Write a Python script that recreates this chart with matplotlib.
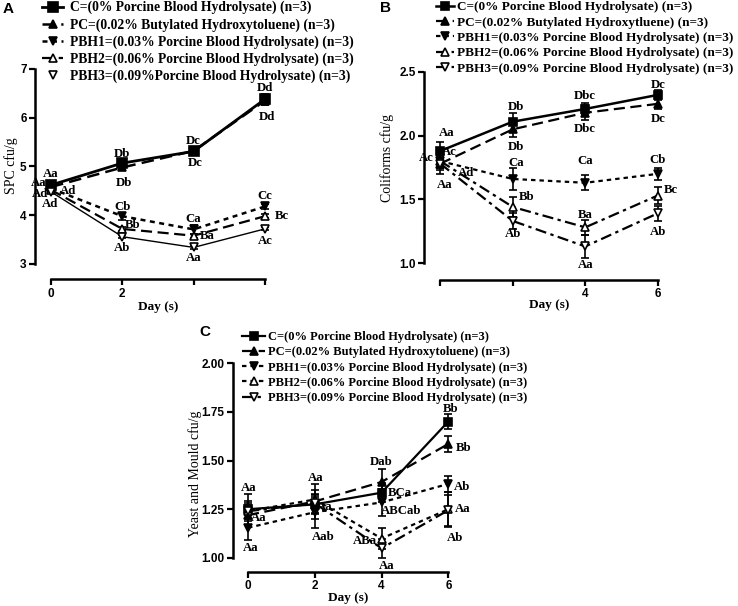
import numpy as np
import matplotlib
matplotlib.use('Agg')
import matplotlib.pyplot as plt
from matplotlib.lines import Line2D

SERIF = 'Liberation Serif'
SANS = 'Liberation Sans'

days = [0, 2, 4, 6]
groups = ['C', 'PC', 'PBH1', 'PBH2', 'PBH3']

# ---- panel A : SPC ----
spc_mean = {'C': [4.62, 5.07, 5.31, 6.38], 'PC': [4.58, 4.98, 5.32, 6.35],
            'PBH1': [4.55, 3.98, 3.71, 4.18], 'PBH2': [4.52, 3.72, 3.58, 3.98],
            'PBH3': [4.48, 3.56, 3.34, 3.72]}
spc_err = {'C': [0.06, 0.05, 0.05, 0.10], 'PC': [0.05, 0.05, 0.04, 0.08],
           'PBH1': [0.05, 0.07, 0.10, 0.05], 'PBH2': [0.04, 0.04, 0.04, 0.04],
           'PBH3': [0.03, 0.03, 0.03, 0.03]}
spc_letters = {'C': ['Aa', 'Db', 'Dc', 'Dd'], 'PC': ['Aa', 'Db', 'Dc', 'Dd'],
               'PBH1': ['Ad', 'Cb', 'Ca', 'Cc'], 'PBH2': ['Ad', 'Bb', 'Ba', 'Bc'],
               'PBH3': ['Ad', 'Ab', 'Aa', 'Ac']}

# ---- panel B : coliforms ----
col_mean = {'C': [1.88, 2.11, 2.21, 2.32], 'PC': [1.78, 2.05, 2.18, 2.25],
            'PBH1': [1.80, 1.66, 1.63, 1.70], 'PBH2': [1.80, 1.44, 1.28, 1.53],
            'PBH3': [1.78, 1.33, 1.13, 1.39]}
col_err = {'C': [0.07, 0.07, 0.05, 0.04], 'PC': [0.08, 0.06, 0.06, 0.04],
           'PBH1': [0.05, 0.09, 0.06, 0.05], 'PBH2': [0.05, 0.08, 0.06, 0.07],
           'PBH3': [0.05, 0.06, 0.09, 0.06]}
col_letters = {'C': ['Aa', 'Db', 'Dbc', 'Dc'], 'PC': ['Aa', 'Db', 'Dbc', 'Dc'],
               'PBH1': ['Ac', 'Ca', 'Ca', 'Cb'], 'PBH2': ['Ac', 'Bb', 'Ba', 'Bc'],
               'PBH3': ['Ad', 'Ab', 'Aa', 'Ab']}

# ---- panel C : yeast and mould ----
ym_mean = {'C': [1.25, 1.275, 1.335, 1.70], 'PC': [1.22, 1.29, 1.39, 1.585],
           'PBH1': [1.155, 1.235, 1.285, 1.38], 'PBH2': [1.24, 1.30, 1.10, 1.25],
           'PBH3': [1.24, 1.28, 1.05, 1.245]}
ym_err = {'C': [0.08, 0.05, 0.05, 0.04], 'PC': [0.05, 0.09, 0.065, 0.04],
          'PBH1': [0.065, 0.08, 0.07, 0.04], 'PBH2': [0.05, 0.05, 0.055, 0.09],
          'PBH3': [0.04, 0.05, 0.05, 0.08]}
ym_letters = {'C': ['Aa', 'Aa', 'BCa', 'Bb'], 'PC': ['Aa', 'Aa', 'Dab', 'Bb'],
              'PBH1': ['Aa', 'Aab', 'ABCab', 'Ab'], 'PBH2': [None, None, 'ABa', 'Aa'],
              'PBH3': [None, None, 'Aa', 'Ab']}

legend_a = ['C=(0% Porcine Blood Hydrolysate) (n=3)',
            'PC=(0.02% Butylated Hydroxytoluene) (n=3)',
            'PBH1=(0.03% Porcine Blood Hydrolysate) (n=3)',
            'PBH2=(0.06% Porcine Blood Hydrolysate) (n=3)',
            'PBH3=(0.09%Porcine Blood Hydrolysate) (n=3)']
legend_b = ['C=(0% Porcine Blood Hydrolysate) (n=3)',
            'PC=(0.02% Butylated Hydroxytluene) (n=3)',
            'PBH1=(0.03% Porcine Blood Hydrolysate) (n=3)',
            'PBH2=(0.06% Porcine Blood Hydrolysate) (n=3)',
            'PBH3=(0.09% Porcine Blood Hydrolysate) (n=3)']
legend_c = ['C=(0% Porcine Blood Hydrolysate) (n=3)',
            'PC=(0.02% Butylated Hydroxytoluene) (n=3)',
            'PBH1=(0.03% Porcine Blood Hydrolysate) (n=3)',
            'PBH2=(0.06% Porcine Blood Hydrolysate) (n=3)',
            'PBH3=(0.09% Porcine Blood Hydrolysate) (n=3)']

# label offsets in pixels (dx right, dy down) per group / day
off_a = {'C': [(0, -11), (0, -9), (0, -10), (0, -11)],
         'PC': [(-12, -4), (2, 16), (2, 12), (2, 16)],
         'PBH1': [(-11, 6), (0, -9), (0, -10), (0, -10)],
         'PBH2': [(17, 1), (10, -4), (14, 0), (17, 0)],
         'PBH3': [(-1, 12), (0, 11), (0, 11), (0, 12)]}
off_b = {'C': [(6, -18), (3, -15), (0, -13), (0, -10)],
         'PC': [(4, 21), (3, 18), (0, 16), (0, 15)],
         'PBH1': [(9, -9), (3, -16), (0, -22), (0, -14)],
         'PBH2': [(-14, -3), (14, -10), (0, -12), (13, -6)],
         'PBH3': [(26, 9), (0, 13), (0, 19), (0, 19)]}
off_c = {'C': [(1, -21), (10, 3), (18, 0), (2, -12)],
         'PC': [(11, 3), (1, -23), (0, -20), (15, 4)],
         'PBH1': [(3, 20), (8, 25), (20, 9), (14, 3)],
         'PBH2': [None, None, (-17, 2), (14, 0)],
         'PBH3': [None, None, (5, 18), (7, 28)]}

# line styles: (linestyle, marker, markerfacecolor, markersize, linewidth)
sty_a = {'C': ('-', 's', 'k', 7, 2.0), 'PC': ((0, (5, 2.5)), '^', 'k', 5.5, 1.8),
         'PBH1': ((0, (2, 1.8)), 'v', 'k', 5.5, 1.8), 'PBH2': ((0, (5, 2.5)), '^', 'w', 5.5, 1.6),
         'PBH3': ('-', 'v', 'w', 5.5, 1.0)}
sty_b = {'C': ('-', 's', 'k', 6, 1.8), 'PC': ((0, (5, 2.5)), '^', 'k', 5.5, 1.6),
         'PBH1': ((0, (2, 1.8)), 'v', 'k', 5.5, 1.6), 'PBH2': ((0, (5, 2, 1.5, 2)), '^', 'w', 5.5, 1.6),
         'PBH3': ((0, (5, 2, 1.5, 2)), 'v', 'w', 5.5, 1.6)}
sty_c = {'C': ('-', 's', 'k', 6, 1.6), 'PC': ((0, (5, 2.5)), '^', 'k', 5.5, 1.6),
         'PBH1': ((0, (2, 1.8)), 'v', 'k', 5.5, 1.6), 'PBH2': ((0, (2, 1.8)), '^', 'w', 5.5, 1.6),
         'PBH3': ((0, (5, 2, 1.5, 2)), 'v', 'w', 5.5, 1.6)}

fig = plt.figure(figsize=(7.38, 6.06), dpi=100)
W, H = 738, 606


def px_axes(l, t, r, b):
    return fig.add_axes([l / W, 1 - b / H, (r - l) / W, (b - t) / H])


def draw_panel(ax, mean, err, letters, offs, sty, ylim, yticks, yfmt,
               xlabels, xoffset, legend_labels, legend_xy, leg_size, handlelen,
               textpad, spacing, no_line_legend=False):
    handles = []
    for g in groups:
        ls, mk, mfc, ms, lw = sty[g]
        ax.errorbar(days, mean[g], yerr=err[g], color='k', linestyle=ls, lw=lw,
                    marker=mk, mfc=mfc, mec='k', mew=1.2, ms=ms,
                    ecolor='k', elinewidth=1.2, capsize=3, capthick=1.2,
                    clip_on=False, zorder=3)
        if no_line_legend and g == 'PBH3':
            h = Line2D([], [], linestyle='None', marker=mk, mfc=mfc, mec='k',
                       mew=1.2, ms=ms)
        else:
            h = Line2D([], [], color='k', linestyle=ls, lw=lw, marker=mk,
                       mfc=mfc, mec='k', mew=1.2, ms=ms)
        handles.append(h)
        for i, d in enumerate(days):
            if letters[g][i] is None:
                continue
            dx, dy = offs[g][i]
            ax.annotate(letters[g][i], (d, mean[g][i]), xytext=(dx, -dy),
                        textcoords='offset pixels', ha='center', va='center',
                        fontfamily=SERIF, fontweight='bold', fontsize=9.2,
                        annotation_clip=False, zorder=2)
    ax.set_xlim(-0.45, 6.2)
    ax.set_ylim(*ylim)
    ax.set_yticks(yticks)
    ax.set_yticklabels([yfmt % v for v in yticks])
    ax.set_xticks(days)
    ax.set_xticklabels(xlabels)
    for s in ['top', 'right']:
        ax.spines[s].set_visible(False)
    ax.spines['left'].set_linewidth(1.8)
    ax.spines['bottom'].set_linewidth(1.8)
    ax.spines['bottom'].set_bounds(0, 6)
    ax.spines['bottom'].set_position(('outward', xoffset))
    ax.tick_params(direction='out', length=4, width=1.6, pad=2)
    for t in ax.get_xticklabels() + ax.get_yticklabels():
        t.set_fontfamily(SANS)
        t.set_fontweight('bold')
        t.set_fontsize(8.5)
    ax.patch.set_alpha(0)
    fig.legend(handles, legend_labels, loc='upper left',
               bbox_to_anchor=(legend_xy[0] / W, 1 - legend_xy[1] / H),
               frameon=False, borderpad=0, borderaxespad=0,
               handlelength=handlelen, handletextpad=textpad, labelspacing=spacing,
               prop={'family': SERIF, 'weight': 'bold', 'size': leg_size})


ax_a = px_axes(35, 69, 272, 264)
draw_panel(ax_a, spc_mean, spc_err, spc_letters, off_a, sty_a, (3, 7),
           [3, 4, 5, 6, 7], '%d', ['0', '2', '', ''], 11, legend_a, (42, 1),
           9.8, 1.55, 0.5, 0.27, no_line_legend=True)

ax_b = px_axes(424, 72, 665, 263)
draw_panel(ax_b, col_mean, col_err, col_letters, off_b, sty_b, (1.0, 2.5),
           [1.0, 1.5, 2.0, 2.5], '%.1f', ['', '', '4', '6'], 12, legend_b,
           (436, 1), 9.5, 1.4, 0.2, 0.24)

ax_c = px_axes(233, 363, 455, 558)
draw_panel(ax_c, ym_mean, ym_err, ym_letters, off_c, sty_c, (1.0, 2.0),
           [1.0, 1.25, 1.5, 1.75, 2.0], '%.2f', ['0', '2', '4', '6'], 10,
           legend_c, (242, 331), 9, 1.85, 0.2, 0.26)

# axis titles
fig.text(11 / W, 1 - 166 / H, 'SPC cfu/g', rotation=90, ha='center', va='center',
         fontfamily=SERIF, fontsize=10)
fig.text(387 / W, 1 - 158 / H, 'Coliforms cfu/g', rotation=90, ha='center',
         va='center', fontfamily=SERIF, fontsize=10)
fig.text(195 / W, 1 - 474 / H, 'Yeast and Mould cfu/g', rotation=90, ha='center',
         va='center', fontfamily=SERIF, fontsize=10)
for x, y in [(158, 307), (549, 305), (348, 598)]:
    fig.text(x / W, 1 - y / H, 'Day (s)', ha='center', va='center',
             fontfamily=SERIF, fontweight='bold', fontsize=9.5)

# panel letters
for s, x, y in [('A', 8, 9), ('B', 386, 8), ('C', 205, 332)]:
    fig.text(x / W, 1 - y / H, s, ha='center', va='center', fontfamily=SANS,
             fontweight='bold', fontsize=11)

fig.savefig('out.png', dpi=100)
